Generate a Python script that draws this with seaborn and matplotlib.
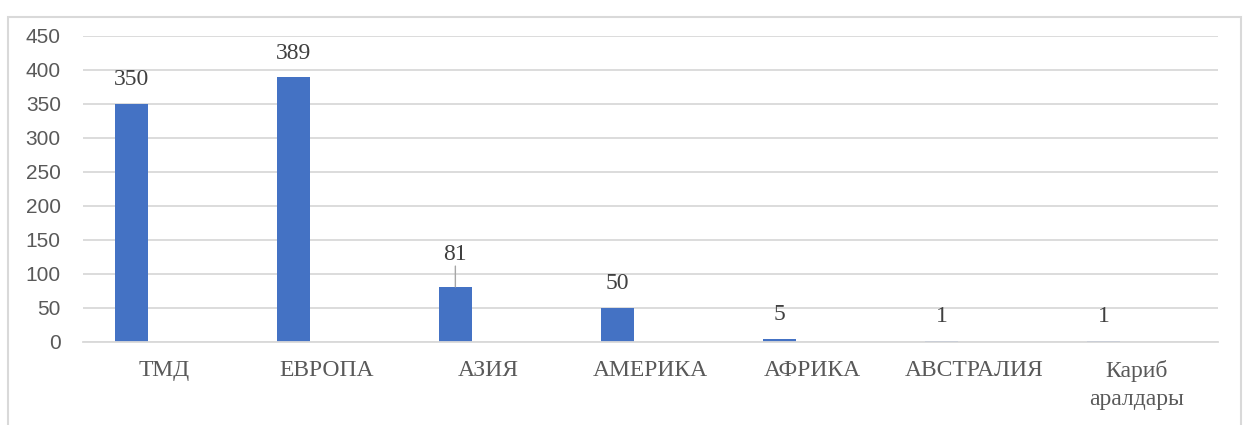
import pandas as pd
import matplotlib
matplotlib.use("Agg")
import matplotlib.pyplot as plt
import seaborn as sns

# Values
regions = ["ТМД", "ЕВРОПА", "АЗИЯ", "АМЕРИКА", "АФРИКА", "АВСТРАЛИЯ", "Кариб\nаралдары"]
counts = [350, 389, 81, 50, 5, 1, 1]
# Excel chart had two more (empty) series next to the first one
series = ["Ряд 1", "Ряд 2", "Ряд 3"]

rows = []
for r, c in zip(regions, counts):
    rows.append({"region": r, "series": series[0], "value": c})
    rows.append({"region": r, "series": series[1], "value": 0})
    rows.append({"region": r, "series": series[2], "value": 0})
df = pd.DataFrame(rows)

sns.set_style("white")

fig = plt.figure(figsize=(12.49, 4.25), dpi=100)
ax = fig.add_axes([0.0665, 0.1953, 0.9085, 0.72])

sns.barplot(data=df, x="region", y="value", hue="series", order=regions,
            hue_order=series, palette=["#4472C4", "#ED7D31", "#A5A5A5"],
            width=0.61, linewidth=0, saturation=1, dodge=True, legend=False, ax=ax)

ax.set_ylim(0, 450)
ax.set_yticks(range(0, 451, 50))
ax.yaxis.grid(True, color="#D9D9D9", linewidth=1.3)
ax.set_axisbelow(True)
for side in ["left", "right", "top"]:
    ax.spines[side].set_visible(False)
ax.spines["bottom"].set_color("#D9D9D9")
ax.spines["bottom"].set_linewidth(1.3)
ax.tick_params(length=0)
ax.tick_params(axis="y", pad=16, labelsize=15, labelcolor="#595959")
ax.tick_params(axis="x", pad=13, labelcolor="#595959")
for lbl in ax.get_yticklabels():
    lbl.set_fontfamily("Liberation Sans")
for lbl in ax.get_xticklabels():
    lbl.set_fontfamily("Liberation Serif")
    lbl.set_fontsize(17)
    lbl.set_linespacing(1.45)
ax.set_xlabel("")
ax.set_ylabel("")

# data labels on the first series only
bars = ax.containers[0]
for bar, c in zip(bars, counts):
    xc = bar.get_x() + bar.get_width() / 2
    top = bar.get_height()
    off = 10
    if c == 81:
        off = 16
    ax.annotate(str(c), (xc, top), xytext=(0, off), textcoords="offset points",
                ha="center", va="bottom", fontsize=17, color="#404040",
                family="Liberation Serif")
    if c == 81:
        ax.annotate("", (xc, top), xytext=(0, off - 1), textcoords="offset points",
                    arrowprops=dict(arrowstyle="-", color="#A6A6A6", lw=1.0,
                                    shrinkA=0, shrinkB=0))

# chart border like the Excel chart area
fig.patches.append(plt.Rectangle((8 / 1249, -0.05), 1233 / 1249, 1 - 17 / 425 + 0.05,
                                 transform=fig.transFigure, fill=False,
                                 edgecolor="#D9D9D9", linewidth=1.5))

fig.savefig("out.png", dpi=100)
